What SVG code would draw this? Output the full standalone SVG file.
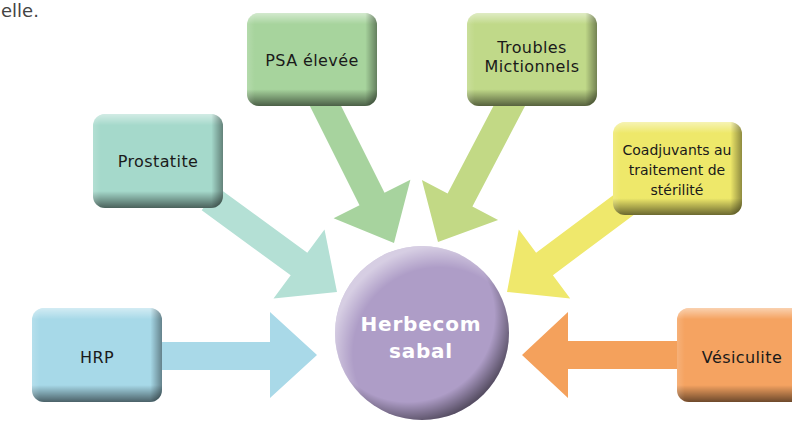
<svg xmlns="http://www.w3.org/2000/svg" width="792" height="421" viewBox="0 0 792 421">
<defs>
<linearGradient id="gV" x1="0" y1="0" x2="0" y2="1">
<stop offset="0" stop-color="#fff" stop-opacity="0.5"/>
<stop offset="0.12" stop-color="#fff" stop-opacity="0"/>
<stop offset="0.82" stop-color="#000" stop-opacity="0"/>
<stop offset="1" stop-color="#000" stop-opacity="0.55"/>
</linearGradient>
<linearGradient id="gH" x1="0" y1="0" x2="1" y2="0">
<stop offset="0" stop-color="#fff" stop-opacity="0.15"/>
<stop offset="0.06" stop-color="#fff" stop-opacity="0"/>
<stop offset="0.91" stop-color="#000" stop-opacity="0"/>
<stop offset="1" stop-color="#000" stop-opacity="0.4"/>
</linearGradient>
<radialGradient id="rimDark" cx="0.42" cy="0.4" r="0.62">
<stop offset="0.8" stop-color="#000" stop-opacity="0"/>
<stop offset="1" stop-color="#000" stop-opacity="0.5"/>
</radialGradient>
<radialGradient id="rimLight" cx="0.6" cy="0.62" r="0.62">
<stop offset="0.8" stop-color="#fff" stop-opacity="0"/>
<stop offset="1" stop-color="#fff" stop-opacity="0.5"/>
</radialGradient>
<style>
.lbl{font-family:"DejaVu Sans","Liberation Sans",sans-serif;font-size:16px;fill:#1a1a1a;text-anchor:middle;letter-spacing:0.4px}
.sm{font-size:14px;letter-spacing:0}
.ctr{font-family:"DejaVu Sans","Liberation Sans",sans-serif;font-size:20px;font-weight:bold;fill:#fff;text-anchor:middle;letter-spacing:0.8px}
.shV{fill:url(#gV)}
.shH{fill:url(#gH)}
</style>
</defs>
<rect width="792" height="421" fill="#fff"/>
<text x="1" y="17" font-family="DejaVu Sans, sans-serif" font-size="18" fill="#444">elle.</text>

<g id="connectors">
<polygon fill="#a9d9e8" points="158,342 270,342 270,312 317,355 270,398 270,370 158,370"/>
<polygon fill="#f4a15c" points="682,341 568,341 568,312 522,355 568,398 568,369 682,369"/>
<polygon fill="#b4e0d5" points="201.7,210.3 290.7,275.3 273.5,298.6 337,292 324.5,229.4 307.3,252.7 218.3,187.7"/>
<polygon fill="#a7d39e" points="307.5,101.3 359.5,205.3 333.6,218.2 394,243 410.4,179.8 384.5,192.7 332.5,88.7"/>
<polygon fill="#c2d985" points="502.6,88.5 447.6,193.5 421.9,180 438,242 498.1,220 472.4,206.5 527.4,101.5"/>
<polygon fill="#efe86c" points="624.2,187 536.1,252.8 518.8,229.6 507,292 570.2,298.4 552.9,275.2 641,209.4"/>
</g>

<g id="hrp">
<rect x="32" y="308" width="130" height="94" rx="12" fill="#a7d9e8"/>
<rect x="32" y="308" width="130" height="94" rx="12" class="shV"/>
<rect x="32" y="308" width="130" height="94" rx="12" class="shH"/>
<text x="97" y="363" class="lbl">HRP</text>
</g>

<g id="prostatite">
<rect x="93" y="114" width="130" height="94" rx="12" fill="#a5d9cb"/>
<rect x="93" y="114" width="130" height="94" rx="12" class="shV"/>
<rect x="93" y="114" width="130" height="94" rx="12" class="shH"/>
<text x="158" y="167" class="lbl">Prostatite</text>
</g>

<g id="psa">
<rect x="247" y="13" width="130" height="93" rx="12" fill="#a7d49d"/>
<rect x="247" y="13" width="130" height="93" rx="12" class="shV"/>
<rect x="247" y="13" width="130" height="93" rx="12" class="shH"/>
<text x="312" y="66" class="lbl">PSA élevée</text>
</g>

<g id="troubles">
<rect x="467" y="13" width="130" height="93" rx="12" fill="#c0d989"/>
<rect x="467" y="13" width="130" height="93" rx="12" class="shV"/>
<rect x="467" y="13" width="130" height="93" rx="12" class="shH"/>
<text x="532" y="53" class="lbl">Troubles</text>
<text x="532" y="72" class="lbl">Mictionnels</text>
</g>

<g id="coadjuvants">
<rect x="613" y="122" width="129" height="93" rx="12" fill="#eee86a"/>
<rect x="613" y="122" width="129" height="93" rx="12" class="shV"/>
<rect x="613" y="122" width="129" height="93" rx="12" class="shH"/>
<text x="677" y="155" class="lbl sm">Coadjuvants au</text>
<text x="677" y="175" class="lbl sm">traitement de</text>
<text x="677" y="195" class="lbl sm">stérilité</text>
</g>

<g id="vesiculite">
<rect x="677" y="308" width="130" height="94" rx="12" fill="#f5a361"/>
<rect x="677" y="308" width="130" height="94" rx="12" class="shV"/>
<rect x="677" y="308" width="130" height="94" rx="12" class="shH"/>
<text x="742" y="363" class="lbl">Vésiculite</text>
</g>

<g id="herbecom">
<circle cx="422" cy="333" r="87" fill="#ae9dc7"/>
<circle cx="422" cy="333" r="87" fill="url(#rimDark)"/>
<circle cx="422" cy="333" r="87" fill="url(#rimLight)"/>
<text x="421" y="331" class="ctr">Herbecom</text>
<text x="421" y="358" class="ctr">sabal</text>
</g>
</svg>
